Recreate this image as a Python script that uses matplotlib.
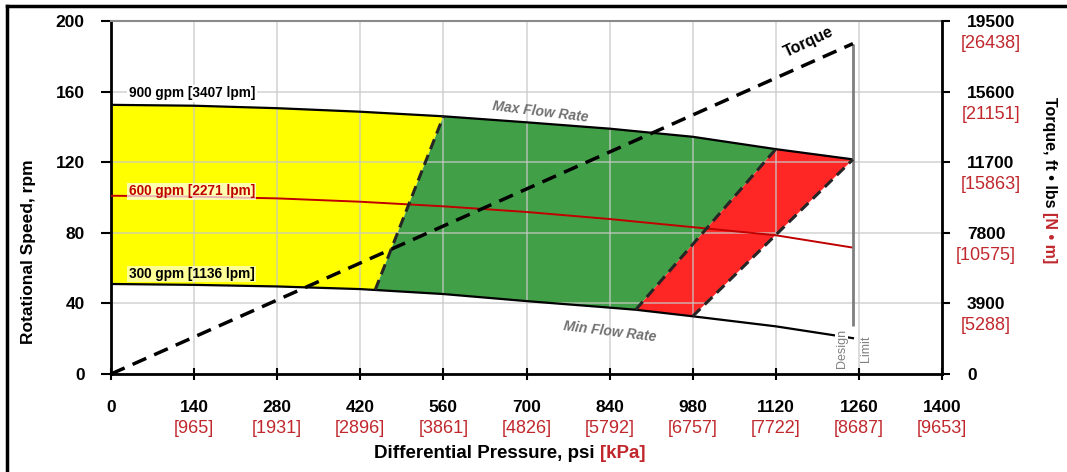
import numpy as np
import matplotlib
matplotlib.use("Agg")
import matplotlib.pyplot as plt
from matplotlib.lines import Line2D

plt.rcParams["font.family"] = ["Liberation Sans", "DejaVu Sans"]

# ---- axis ticks and unit conversions ----
psi_ticks = [0, 140, 280, 420, 560, 700, 840, 980, 1120, 1260, 1400]
kpa_labels = ["", "[965]", "[1931]", "[2896]", "[3861]", "[4826]", "[5792]",
              "[6757]", "[7722]", "[8687]", "[9653]"]
rpm_ticks = [0, 40, 80, 120, 160, 200]
torque_ticks = [0, 3900, 7800, 11700, 15600, 19500]
torque_nm_labels = ["", "[5288]", "[10575]", "[15863]", "[21151]", "[26438]"]

# ---- flow-rate curves (psi vs rpm) ----
max_psi = [0, 140, 280, 420, 560, 700, 840, 980, 1120, 1250]
max_rpm = [152.5, 152.0, 150.6, 148.6, 146.0, 142.6, 139.0, 134.4, 127.4, 121.6]

mid_psi = [0, 140, 280, 420, 560, 700, 840, 980, 1120, 1250]
mid_rpm = [101.0, 100.5, 99.5, 97.6, 95.0, 91.8, 87.8, 83.2, 78.6, 71.6]

min_psi = [0, 140, 280, 420, 445, 560, 700, 840, 884, 980, 1120, 1250]
min_rpm = [51.0, 50.5, 49.6, 48.1, 47.6, 45.3, 41.3, 37.6, 36.4, 32.7, 27.0, 20.3]

# operating zone limits along the max / min flow curves (psi)
yellow_top, yellow_bot = 560, 445
red_left_top, red_left_bot = 1120, 884
red_right_top, red_right_bot = 1250, 980

# torque vs differential pressure
torque_psi = [0, 1250]
torque_ftlb = [0, 18250]

design_limit_psi = 1250
design_line_bottom_rpm = 27

fig = plt.figure(figsize=(10.67, 4.72), dpi=100)
ax = fig.add_axes([111 / 1067, 1 - 374 / 472, 831 / 1067, 353 / 472])
ax2 = ax.twinx()

mp, mr = np.array(max_psi), np.array(max_rpm)
lp, lr = np.array(min_psi), np.array(min_rpm)


def zone(top_from, top_to, bot_from, bot_to):
    t = (mp >= top_from) & (mp <= top_to)
    b = (lp >= bot_from) & (lp <= bot_to)
    xs = np.concatenate([mp[t], lp[b][::-1]])
    ys = np.concatenate([mr[t], lr[b][::-1]])
    return xs, ys


for (x0, x1, b0, b1), col in [((0, yellow_top, 0, yellow_bot), "#ffff00"),
                              ((yellow_top, red_left_top, yellow_bot, red_left_bot), "#41a047"),
                              ((red_left_top, red_right_top, red_left_bot, red_right_bot), "#ff2626")]:
    xs, ys = zone(x0, x1, b0, b1)
    ax.fill(xs, ys, color=col, lw=0, zorder=1)

ax.set_axisbelow("line")
ax.grid(True, color="#c8c8c8", lw=1.2, alpha=0.75)

ax.plot(max_psi, max_rpm, color="black", lw=1.6, zorder=3)
ax.plot(min_psi, min_rpm, color="black", lw=1.6, zorder=3)
ax.plot(mid_psi, mid_rpm, color="#c00000", lw=1.4, zorder=3)


def on_curve(psi, xs, ys):
    return ys[list(xs).index(psi)]


for top, bot in [(yellow_top, yellow_bot), (red_left_top, red_left_bot),
                 (red_right_top, red_right_bot)]:
    ax.plot([bot, top], [on_curve(bot, min_psi, min_rpm), on_curve(top, max_psi, max_rpm)],
            color="#262626", lw=2.2, ls=(0, (3.5, 2.0)), zorder=4)

# design limit marker
top_rpm = torque_ftlb[-1] / torque_ticks[-1] * rpm_ticks[-1]
ax.plot([design_limit_psi, design_limit_psi], [top_rpm, design_line_bottom_rpm],
        color="#7f7f7f", lw=2, zorder=3, solid_capstyle="butt")

# torque line on secondary axis
ax2.plot(torque_psi, torque_ftlb, color="black", lw=2.5, ls=(0, (4.3, 2.5)), zorder=5)

ax.set_xlim(0, 1400)
ax.set_ylim(0, 200)
ax2.set_ylim(0, 19500)

# ---- spines and ticks ----
for s in ["left", "bottom"]:
    ax.spines[s].set_linewidth(2)
    ax.spines[s].set_color("black")
ax.spines["top"].set_color("#8a8a8a")
ax.spines["top"].set_linewidth(1.5)
ax.spines["right"].set_visible(False)
for s in ["left", "top", "bottom"]:
    ax2.spines[s].set_visible(False)
ax2.spines["right"].set_linewidth(2)
ax2.spines["right"].set_color("black")

ax.set_xticks(psi_ticks)
ax.set_xticklabels([str(v) for v in psi_ticks])
ax.set_yticks(rpm_ticks)
ax.set_yticklabels([str(v) for v in rpm_ticks])
ax2.set_yticks(torque_ticks)
ax2.set_yticklabels([str(v) for v in torque_ticks])

ax.tick_params(axis="y", direction="out", length=7, width=1.5, pad=12, labelsize=12.5)
ax.tick_params(axis="x", direction="inout", length=9, width=1.5, pad=14, labelsize=12.5)
ax2.tick_params(axis="y", direction="out", length=6, width=1.5, pad=12, labelsize=12.5)
for lab in ax.get_xticklabels() + ax.get_yticklabels() + ax2.get_yticklabels():
    lab.set_fontweight("bold")
for lab in ax2.get_yticklabels():
    lab.set_horizontalalignment("left")

# ---- in-plot annotations ----
lbl = dict(fontsize=9.8, fontweight="bold", ha="left", va="center", zorder=6)
ax.text(30, 159, "900 gpm [3407 lpm]", color="black",
        bbox=dict(facecolor="white", edgecolor="none", pad=1.0), **lbl)
ax.text(30, 103.6, "600 gpm [2271 lpm]", color="#c00000",
        bbox=dict(facecolor="white", edgecolor="none", alpha=0.7, pad=1.0), **lbl)
ax.text(30, 56.7, "300 gpm [1136 lpm]", color="black",
        bbox=dict(facecolor="white", edgecolor="none", alpha=0.6, pad=1.0), **lbl)

ax.text(723, 148.6, "Max Flow Rate", color="#707070", fontsize=10, fontweight="bold",
        style="italic", rotation=-7, ha="center", va="center", zorder=6)
ax.text(841, 24, "Min Flow Rate", color="#707070", fontsize=10, fontweight="bold",
        style="italic", rotation=-7, ha="center", va="center", zorder=6)
ax.text(1176, 188, "Torque", color="black", fontsize=11.5, fontweight="bold",
        rotation=25, ha="center", va="center", zorder=6)
ax.text(1231, 14.2, "Design", color="#808080", fontsize=9, rotation=90,
        ha="center", va="center", zorder=6,
        bbox=dict(facecolor="white", edgecolor="none", pad=0.5))
ax.text(1272, 14.2, "Limit", color="#808080", fontsize=9, rotation=90,
        ha="center", va="center", zorder=6)

# figure frame
fig.add_artist(Line2D([7 / 1067, 7 / 1067], [0, 1 - 6 / 472], transform=fig.transFigure,
                      color="black", lw=2.5))
fig.add_artist(Line2D([7 / 1067, 1], [1 - 6 / 472, 1 - 6 / 472], transform=fig.transFigure,
                      color="black", lw=2.5))

fig.canvas.draw()
renderer = fig.canvas.get_renderer()
red = "#c0282d"

# bracketed metric labels under the pressure ticks
for lab, txt in zip(ax.get_xticklabels(), kpa_labels):
    if not txt:
        continue
    bb = lab.get_window_extent(renderer)
    cx, cy = (bb.x0 + bb.x1) / 2, (bb.y0 + bb.y1) / 2
    fig.text(cx / fig.bbox.width, (cy - 21) / fig.bbox.height, txt, color=red,
             fontsize=13, ha="center", va="center")

# bracketed metric labels under the torque ticks
for lab, txt in zip(ax2.get_yticklabels(), torque_nm_labels):
    if not txt:
        continue
    bb = lab.get_window_extent(renderer)
    cx, cy = (bb.x0 + bb.x1) / 2, (bb.y0 + bb.y1) / 2
    fig.text(cx / fig.bbox.width, (cy - 21) / fig.bbox.height, txt, color=red,
             fontsize=13, ha="center", va="center")

# axis titles
fig.text(28.5 / 1067, 1 - 252 / 472, "Rotational Speed, rpm", rotation=90,
         ha="center", va="center", fontsize=12.5, fontweight="bold")

t1 = fig.text(0, 1 - 453 / 472, "Differential Pressure, psi ", ha="left", va="center",
              fontsize=13.5, fontweight="bold")
t2 = fig.text(0, 1 - 453 / 472, "[kPa]", ha="left", va="center",
              fontsize=13.5, fontweight="bold", color=red)
w1 = t1.get_window_extent(renderer).width
w2 = t2.get_window_extent(renderer).width
start = 510 - (w1 + w2) / 2
t1.set_x(start / fig.bbox.width)
t2.set_x((start + w1) / fig.bbox.width)

r1 = fig.text(1050 / 1067, 0, "Torque, ft \u2022 lbs ", rotation=270, ha="center",
              va="center", fontsize=11.5, fontweight="bold")
r2 = fig.text(1050 / 1067, 0, "[N \u2022 m]", rotation=270, ha="center",
              va="center", fontsize=11.5, fontweight="bold", color=red)
h1 = r1.get_window_extent(renderer).height
h2 = r2.get_window_extent(renderer).height
top_y = 472 - 97  # top of the rotated title in display pixels (from bottom)
r1.set_y((top_y - h1 / 2) / fig.bbox.height)
r2.set_y((top_y - h1 - h2 / 2) / fig.bbox.height)

fig.savefig("out.png", dpi=100)
